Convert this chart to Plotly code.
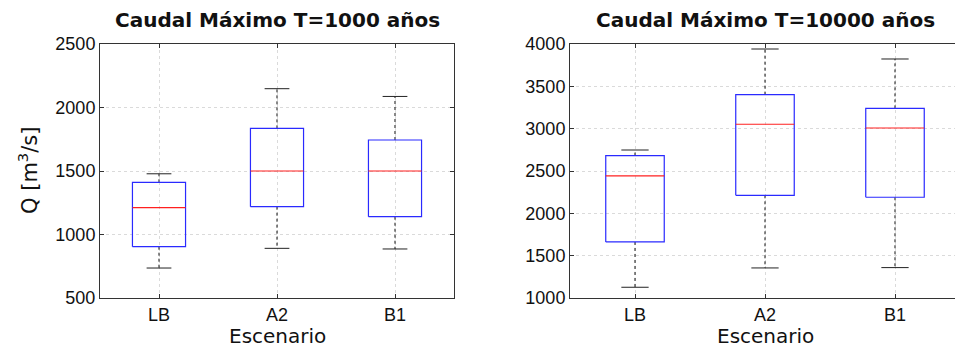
import plotly.graph_objects as go

categories = ["LB", "A2", "B1"]

# T = 1000 years
t1000_low = [736, 891, 886]
t1000_q1 = [904, 1219, 1140]
t1000_med = [1211, 1500, 1500]
t1000_q3 = [1411, 1836, 1744]
t1000_high = [1478, 2148, 2087]

# T = 10000 years
t10000_low = [1127, 1355, 1359]
t10000_q1 = [1662, 2213, 2190]
t10000_med = [2442, 3052, 3008]
t10000_q3 = [2682, 3402, 3240]
t10000_high = [2748, 3941, 3823]

titles = ["Caudal Máximo T=1000 años", "Caudal Máximo T=10000 años"]
y_ranges = [[500, 2500], [1000, 4000]]
y_ticks = [[500, 1000, 1500, 2000, 2500], [1000, 1500, 2000, 2500, 3000, 3500, 4000]]

FONT = "DejaVu Sans"
TICKFONT = "Liberation Sans, Arial, sans-serif"
BOX_HW = 0.225
CAP_HW = 0.105

fig = go.Figure()


def add_panel(low, q1, med, q3, high, xref, yref):
    bx, by, mx, my, wx, wy, cx, cy = [], [], [], [], [], [], [], []
    for i in range(len(categories)):
        p = i + 1
        bx += [p - BOX_HW, p + BOX_HW, p + BOX_HW, p - BOX_HW, p - BOX_HW, None]
        by += [q1[i], q1[i], q3[i], q3[i], q1[i], None]
        mx += [p - BOX_HW, p + BOX_HW, None]
        my += [med[i], med[i], None]
        wx += [p, p, None, p, p, None]
        wy += [q3[i], high[i], None, q1[i], low[i], None]
        cx += [p - CAP_HW, p + CAP_HW, None, p - CAP_HW, p + CAP_HW, None]
        cy += [high[i], high[i], None, low[i], low[i], None]
    common = dict(xaxis=xref, yaxis=yref, mode="lines", showlegend=False, hoverinfo="skip")
    fig.add_trace(go.Scatter(x=wx, y=wy, line=dict(color="#111111", width=1, dash="dot"), **common))
    fig.add_trace(go.Scatter(x=cx, y=cy, line=dict(color="#222222", width=1), **common))
    fig.add_trace(go.Scatter(x=bx, y=by, line=dict(color="#2a2aff", width=1.2), **common))
    fig.add_trace(go.Scatter(x=mx, y=my, line=dict(color="#ff2020", width=1.2), **common))


add_panel(t1000_low, t1000_q1, t1000_med, t1000_q3, t1000_high, "x", "y")
add_panel(t10000_low, t10000_q1, t10000_med, t10000_q3, t10000_high, "x2", "y2")

axis_common = dict(
    showgrid=True, gridcolor="#dadada", griddash="dot", gridwidth=1,
    showline=True, linecolor="#333333", linewidth=1,
    ticks="inside", ticklen=4, tickcolor="#333333",
    tickfont=dict(family=TICKFONT, size=18, color="#111111"),
    zeroline=False, fixedrange=True,
)

fig.update_layout(
    width=955, height=349,
    margin=dict(l=100, r=0, t=44, b=51),
    paper_bgcolor="white", plot_bgcolor="white",
    xaxis=dict(domain=[0, 354 / 855], range=[0.5, 3.5], tickvals=[1, 2, 3], ticktext=categories,
               mirror="ticks", anchor="y", **axis_common),
    yaxis=dict(domain=[0, 1], range=y_ranges[0], tickvals=y_ticks[0], mirror="ticks",
               anchor="x", **axis_common),
    xaxis2=dict(domain=[470 / 855, 1], range=[0.5, 0.5 + 385 / 130], tickvals=[1, 2, 3],
                ticktext=categories, mirror="ticks", anchor="y2", **axis_common),
    yaxis2=dict(domain=[0, 1], range=y_ranges[1], tickvals=y_ticks[1], mirror=False,
                anchor="x2", **axis_common),
)

annotations = [
    dict(text="<b>" + titles[0] + "</b>", xref="x domain", yref="paper", x=0.5, y=1 + 24 / 254,
         xanchor="center", yanchor="middle", showarrow=False,
         font=dict(family=FONT, size=20, color="#111111")),
    dict(text="<b>" + titles[1] + "</b>", xref="x2", yref="paper", x=2, y=1 + 24 / 254,
         xanchor="center", yanchor="middle", showarrow=False,
         font=dict(family=FONT, size=20, color="#111111")),
    dict(text="Escenario", xref="x", yref="paper", x=2, y=-38 / 254,
         xanchor="center", yanchor="middle", showarrow=False,
         font=dict(family=FONT, size=20, color="#111111")),
    dict(text="Escenario", xref="x2", yref="paper", x=2, y=-38 / 254,
         xanchor="center", yanchor="middle", showarrow=False,
         font=dict(family=FONT, size=20, color="#111111")),
    dict(text="Q [m<sup>3</sup>/s]", xref="paper", yref="paper", x=-72 / 855, y=0.5,
         xanchor="center", yanchor="middle", textangle=-90, showarrow=False,
         font=dict(family=FONT, size=21, color="#111111")),
]
fig.update_layout(annotations=annotations)

fig.write_html("out.html")
